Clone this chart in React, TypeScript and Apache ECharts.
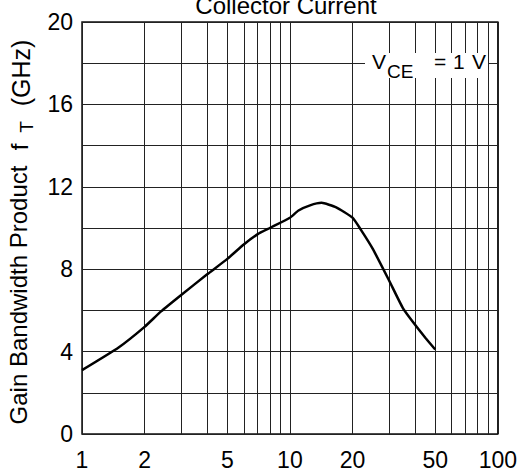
import React, { useEffect, useRef } from "react";
import * as echarts from "echarts";

const currentMA = [1, 1.5, 2, 2.4, 3, 4, 5, 6, 7, 8, 10, 11, 12.5, 14.2, 16.7, 20, 22, 25, 30, 35, 40, 45, 50];
const fTGHz = [3.1, 4.2, 5.2, 5.95, 6.75, 7.75, 8.5, 9.2, 9.7, 10.0, 10.5, 10.85, 11.1, 11.22, 11.0, 10.5, 9.9, 9.0, 7.45, 6.1, 5.3, 4.65, 4.1];
const xGridValues = [1, 2, 3, 4, 5, 6, 7, 8, 9, 10, 20, 30, 40, 50, 60, 70, 80, 90, 100];
const xLabelValues = [1, 2, 5, 10, 20, 50, 100];
const yLabelValues = [0, 4, 8, 12, 16, 20];

export default function App() {
  const ref = useRef<HTMLDivElement>(null);
  useEffect(() => {
    if (!ref.current) return;
    const chart = echarts.init(ref.current, null, { renderer: "svg" });
    const font = "Liberation Sans, Arial, sans-serif";
    chart.setOption({
      animation: false,
      backgroundColor: "#ffffff",
      grid: { left: 82, right: 22, top: 22, bottom: 33, show: true, borderColor: "#111", borderWidth: 1.5, containLabel: false },
      xAxis: {
        type: "log",
        logBase: 10,
        min: 1,
        max: 100,
        axisLine: { show: false },
        axisTick: { show: false, customValues: xGridValues },
        splitLine: { show: true, lineStyle: { color: "#222", width: 1 } },
        axisLabel: {
          customValues: xLabelValues,
          formatter: (v: number) => String(Math.round(v)),
          color: "#000",
          fontSize: 23,
          fontFamily: font,
          margin: 14,
        },
      },
      yAxis: {
        type: "value",
        min: 0,
        max: 20,
        interval: 2,
        axisLine: { show: false },
        axisTick: { show: false },
        splitLine: { show: true, lineStyle: { color: "#222", width: 1 } },
        axisLabel: {
          formatter: (v: number) => (yLabelValues.indexOf(v) >= 0 ? String(v) : ""),
          color: "#000",
          fontSize: 23,
          fontFamily: font,
          margin: 9,
          padding: [0, 0, 10, 0],
        },
      },
      series: [
        {
          type: "line",
          data: currentMA.map((x, i) => [x, fTGHz[i]]),
          showSymbol: false,
          smooth: 0.15,
          lineStyle: { color: "#000", width: 2.5 },
        },
      ],
      graphic: [
        { type: "text", x: 286, y: 5, style: { text: "Collector Current", font: `24px ${font}`, fill: "#000", textAlign: "center", textVerticalAlign: "middle" } },
        { type: "rect", shape: { x: 365, y: 53, width: 123, height: 25 }, style: { fill: "#fff" }, z: 10 },
        { type: "text", z: 11, x: 372, y: 61, style: { text: "V", font: `21px ${font}`, fill: "#000", textAlign: "left", textVerticalAlign: "middle" } },
        { type: "text", z: 11, x: 387, y: 71, style: { text: "CE", font: `19px ${font}`, fill: "#000", textAlign: "left", textVerticalAlign: "middle" } },
        { type: "text", z: 11, x: 434, y: 61, style: { text: "=", font: `21px ${font}`, fill: "#000", textAlign: "left", textVerticalAlign: "middle" } },
        { type: "text", z: 11, x: 453, y: 61, style: { text: "1", font: `21px ${font}`, fill: "#000", textAlign: "left", textVerticalAlign: "middle" } },
        { type: "text", z: 11, x: 472, y: 61, style: { text: "V", font: `21px ${font}`, fill: "#000", textAlign: "left", textVerticalAlign: "middle" } },
        { type: "text", x: 18, y: 295, rotation: Math.PI / 2, style: { text: "Gain Bandwidth Product", font: `24px ${font}`, fill: "#000", textAlign: "center", textVerticalAlign: "middle" } },
        { type: "text", x: 19, y: 147, rotation: Math.PI / 2, style: { text: "f", font: `24px ${font}`, fill: "#000", textAlign: "center", textVerticalAlign: "middle" } },
        { type: "text", x: 26, y: 127, rotation: Math.PI / 2, style: { text: "T", font: `19px ${font}`, fill: "#000", textAlign: "center", textVerticalAlign: "middle" } },
        { type: "text", x: 21, y: 73, rotation: Math.PI / 2, style: { text: "(GHz)", font: `25px ${font}`, fill: "#000", textAlign: "center", textVerticalAlign: "middle" } },
      ],
    });
    return () => chart.dispose();
  }, []);
  return <div ref={ref} style={{ width: 520, height: 471, position: "absolute", left: 0, top: 0 }} />;
}
